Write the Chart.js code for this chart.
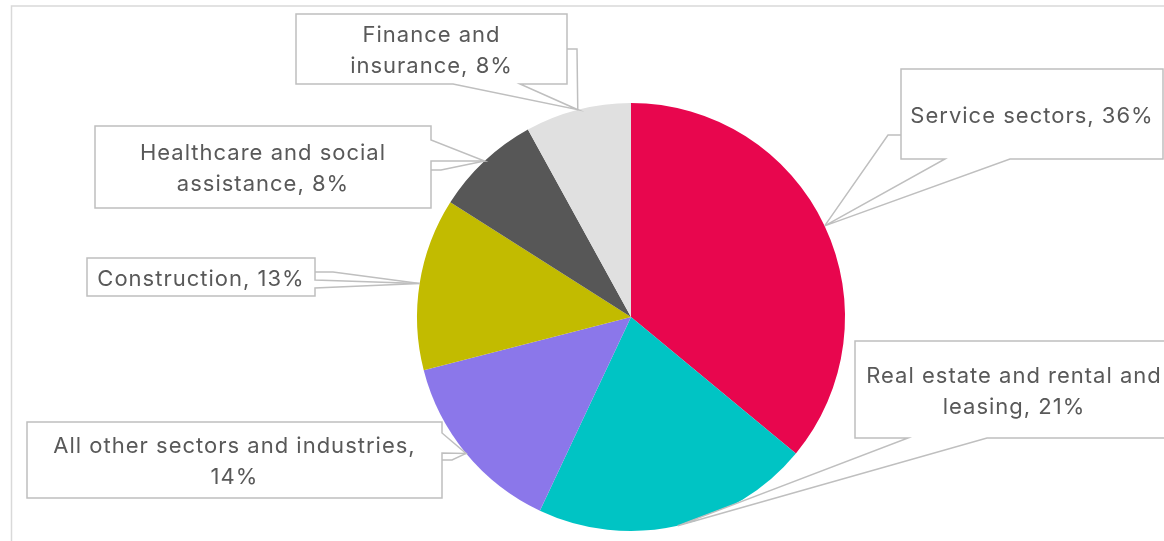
<!DOCTYPE html>
<html>
<head>
<meta charset="utf-8">
<title>Sector shares</title>
<script src="https://cdn.jsdelivr.net/npm/chart.js@4"></script>
<style>
  html, body { margin: 0; padding: 0; background: #fff; }
  canvas { display: block; }
</style>
</head>
<body>
<canvas id="chartSecteurs" width="1164" height="541"></canvas>
<script>
// Données du camembert (ordre horaire depuis midi)
const secteurs = [
    'Service sectors',
    'Real estate and rental and leasing',
    'All other sectors and industries',
    'Construction',
    'Healthcare and social assistance',
    'Finance and insurance'
];
const parts = [36, 21, 14, 13, 8, 8];
const couleurs = ['#E8064E', '#00C4C4', '#8B77EA', '#C2BB00', '#575757', '#E0E0E0'];

// Placement des bulles : cadre, pointe (côté + deux points de base), ligne de rappel
const bulles = [
    { box: [901, 69, 262, 90],  side: 'bottom', base: [945, 1010], leader: [[901, 135], [888, 135]], coupe: 0 },
    { box: [855, 341, 318, 97], side: 'bottom', base: [908, 987],  leader: [], coupe: 5 },
    { box: [27, 422, 415, 76],  side: 'right',  base: [433, 453],  leader: [[442, 460], [452, 460]], coupe: 5 },
    { box: [87, 258, 228, 38],  side: 'right',  base: [280, 288],  leader: [[315, 272], [333, 272]], coupe: 0 },
    { box: [95, 126, 336, 82],  side: 'right',  base: [140, 161],  leader: [[431, 170], [441, 170]], coupe: 3 },
    { box: [296, 14, 271, 70],  side: 'bottom', base: [453, 520],  leader: [[567, 49], [577, 49]], coupe: 2 }
];

const POLICE = '22px Inter, "Noto Sans", sans-serif';
const TRAIT = '#BFBFBF';
const TEXTE = '#595959';

// Cadre gris clair autour du graphique
const cadre = {
    id: 'cadre',
    beforeDraw(chart) {
        const ctx = chart.ctx;
        ctx.save();
        ctx.strokeStyle = '#D9D9D9';
        ctx.lineWidth = 1.5;
        ctx.strokeRect(11.5, 6, 1300, 700);
        ctx.restore();
    }
};

// Bulles d'étiquettes reliées au milieu de chaque part
const etiquettes = {
    id: 'etiquettes',
    afterDatasetsDraw(chart) {
        const ctx = chart.ctx;
        const arcs = chart.getDatasetMeta(0).data;
        ctx.save();
        ctx.lineWidth = 1.5;
        ctx.strokeStyle = TRAIT;
        ctx.lineJoin = 'miter';

        bulles.forEach((b, i) => {
            const arc = arcs[i];
            const mid = (arc.startAngle + arc.endAngle) / 2;
            const tx = arc.x + Math.cos(mid) * arc.outerRadius;
            const ty = arc.y + Math.sin(mid) * arc.outerRadius;
            const [x, y, w, h] = b.box;
            const r = x + w, bas = y + h;

            ctx.beginPath();
            if (b.side === 'bottom') {
                ctx.moveTo(x, y);
                ctx.lineTo(r, y);
                ctx.lineTo(r, bas);
                ctx.lineTo(b.base[1], bas);
                ctx.lineTo(tx, ty);
                ctx.lineTo(b.base[0], bas);
                ctx.lineTo(x, bas);
            } else {
                ctx.moveTo(x, y);
                ctx.lineTo(r, y);
                ctx.lineTo(r, b.base[0]);
                ctx.lineTo(tx, ty);
                ctx.lineTo(r, b.base[1]);
                ctx.lineTo(r, bas);
                ctx.lineTo(x, bas);
            }
            ctx.closePath();
            ctx.fillStyle = '#fff';
            ctx.fill();
            ctx.stroke();

            if (b.leader.length) {
                ctx.beginPath();
                ctx.moveTo(b.leader[0][0], b.leader[0][1]);
                b.leader.slice(1).forEach(p => ctx.lineTo(p[0], p[1]));
                ctx.lineTo(tx, ty);
                ctx.stroke();
            }

            // Texte : "catégorie, xx%" coupé après n mots
            const mots = (secteurs[i] + ', ' + parts[i] + '%').split(' ');
            const lignes = b.coupe ? [mots.slice(0, b.coupe).join(' '), mots.slice(b.coupe).join(' ')]
                                   : [mots.join(' ')];
            ctx.font = POLICE;
            ctx.letterSpacing = '1px';
            ctx.fillStyle = TEXTE;
            ctx.textAlign = 'center';
            ctx.textBaseline = 'middle';
            const interligne = 31;
            const cx = x + w / 2;
            const cy = y + h / 2 + 2 - (lignes.length - 1) * interligne / 2;
            lignes.forEach((l, k) => ctx.fillText(l, cx, cy + k * interligne));
        });
        ctx.restore();
    }
};

new Chart(document.getElementById('chartSecteurs').getContext('2d'), {
    type: 'pie',
    data: {
        labels: secteurs,
        datasets: [{
            data: parts,
            backgroundColor: couleurs,
            borderWidth: 0
        }]
    },
    options: {
        responsive: false,
        animation: false,
        layout: { padding: { left: 417, right: 319, top: 103, bottom: 10 } },
        plugins: {
            legend: { display: false },
            tooltip: { enabled: false }
        }
    },
    plugins: [cadre, etiquettes]
});
</script>
</body>
</html>
